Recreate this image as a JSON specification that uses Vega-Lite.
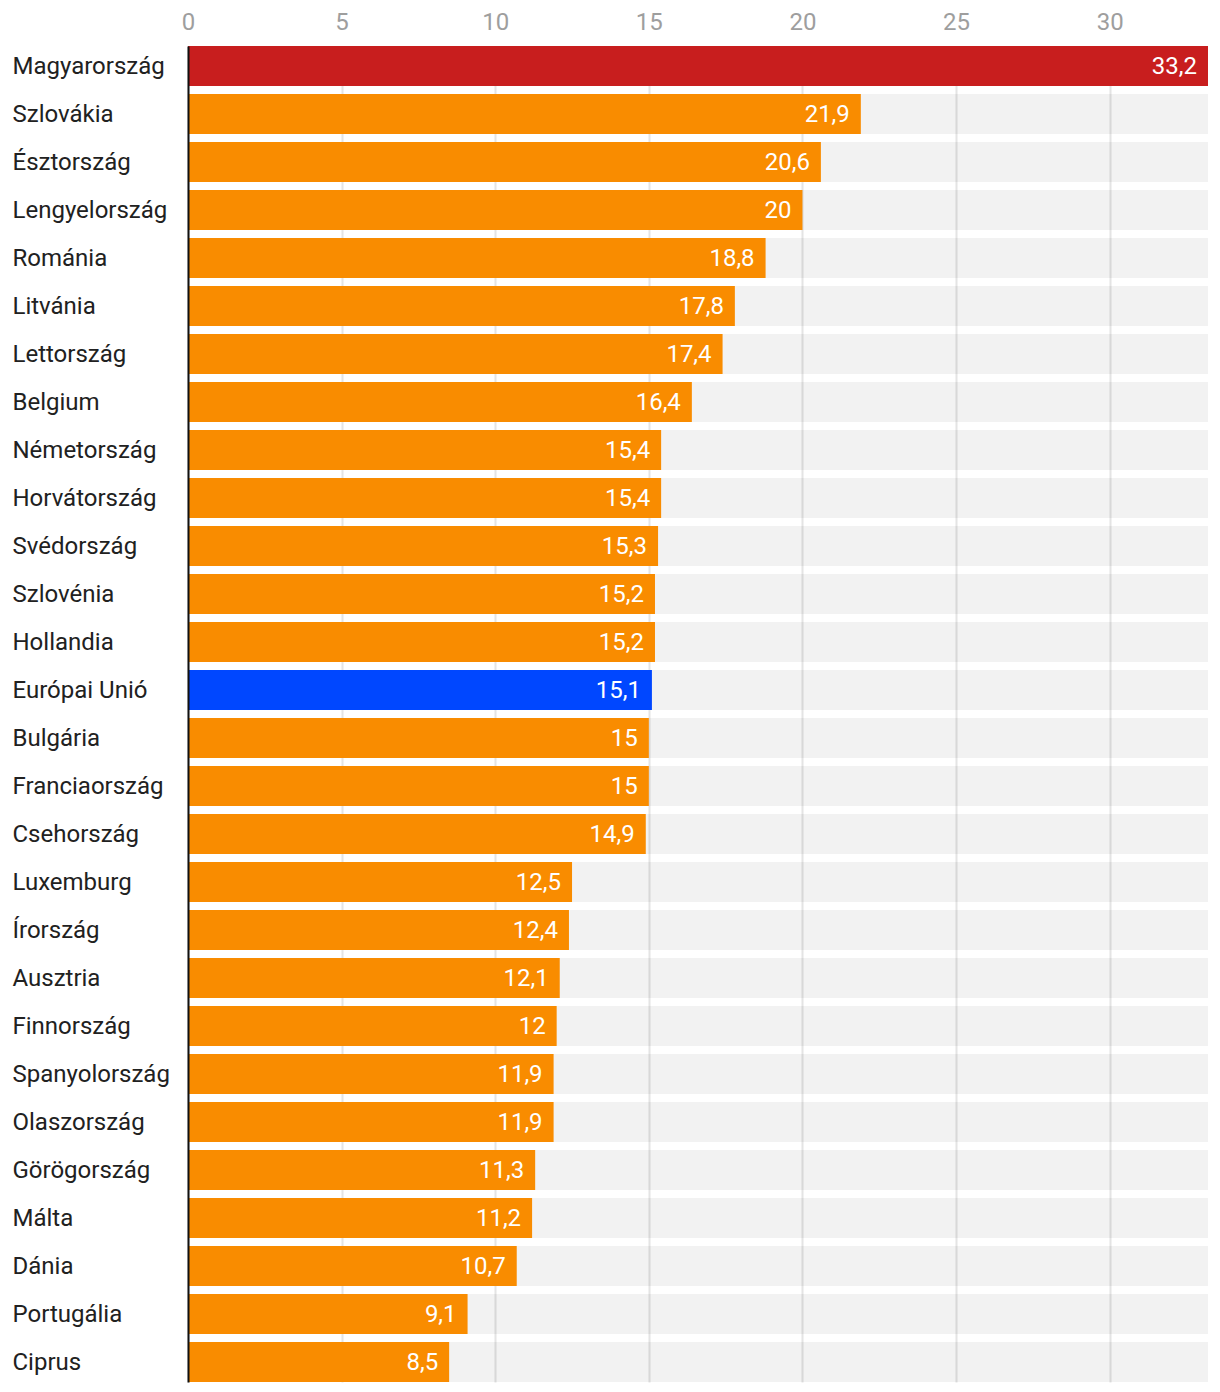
{
  "$schema": "https://vega.github.io/schema/vega-lite/v6.json",
  "width": 1020,
  "height": 1336,
  "autosize": "none",
  "padding": {"left": 188, "top": 46, "right": 12, "bottom": 10},
  "background": "white",
  "config": {
    "font": "Roboto",
    "view": {"stroke": null},
    "locale": {"number": {"decimal": ",", "thousands": " ", "grouping": [3], "currency": ["", " €"]}}
  },
  "data": {
    "values": [
      {"country": "Magyarország", "value": 33.2, "group": "hu"},
      {"country": "Szlovákia", "value": 21.9, "group": "other"},
      {"country": "Észtország", "value": 20.6, "group": "other"},
      {"country": "Lengyelország", "value": 20, "group": "other"},
      {"country": "Románia", "value": 18.8, "group": "other"},
      {"country": "Litvánia", "value": 17.8, "group": "other"},
      {"country": "Lettország", "value": 17.4, "group": "other"},
      {"country": "Belgium", "value": 16.4, "group": "other"},
      {"country": "Németország", "value": 15.4, "group": "other"},
      {"country": "Horvátország", "value": 15.4, "group": "other"},
      {"country": "Svédország", "value": 15.3, "group": "other"},
      {"country": "Szlovénia", "value": 15.2, "group": "other"},
      {"country": "Hollandia", "value": 15.2, "group": "other"},
      {"country": "Európai Unió", "value": 15.1, "group": "eu"},
      {"country": "Bulgária", "value": 15, "group": "other"},
      {"country": "Franciaország", "value": 15, "group": "other"},
      {"country": "Csehország", "value": 14.9, "group": "other"},
      {"country": "Luxemburg", "value": 12.5, "group": "other"},
      {"country": "Írország", "value": 12.4, "group": "other"},
      {"country": "Ausztria", "value": 12.1, "group": "other"},
      {"country": "Finnország", "value": 12, "group": "other"},
      {"country": "Spanyolország", "value": 11.9, "group": "other"},
      {"country": "Olaszország", "value": 11.9, "group": "other"},
      {"country": "Görögország", "value": 11.3, "group": "other"},
      {"country": "Málta", "value": 11.2, "group": "other"},
      {"country": "Dánia", "value": 10.7, "group": "other"},
      {"country": "Portugália", "value": 9.1, "group": "other"},
      {"country": "Ciprus", "value": 8.5, "group": "other"}
    ]
  },
  "encoding": {
    "y": {
      "field": "country",
      "type": "nominal",
      "sort": null,
      "scale": {"paddingInner": 0.1667, "paddingOuter": 0},
      "axis": {
        "title": null,
        "ticks": false,
        "tickSize": 0,
        "labelAlign": "left",
        "labelPadding": 176,
        "labelFontSize": 24,
        "labelColor": "#212121",
        "labelFont": "Roboto",
        "labelOffset": 1,
        "domainColor": "#111111",
        "domainWidth": 2,
        "zindex": 2
      }
    }
  },
  "layer": [
    {
      "mark": {"type": "bar", "color": "#000000", "opacity": 0.05},
      "encoding": {
        "x": {"value": 0},
        "x2": {"value": "width"}
      }
    },
    {
      "mark": {"type": "bar"},
      "encoding": {
        "x": {
          "field": "value",
          "type": "quantitative",
          "scale": {"domain": [0, 33.2], "nice": false, "zero": true},
          "axis": {
            "orient": "top",
            "title": null,
            "values": [0, 5, 10, 15, 20, 25, 30],
            "format": "d",
            "domain": false,
            "ticks": false,
            "tickSize": 0,
            "labelPadding": 12,
            "labelFontSize": 24,
            "labelColor": "#9e9e9e",
            "labelFont": "Roboto",
            "grid": true,
            "gridColor": "#e4e4e4",
            "gridWidth": 2,
            "labelFlush": false
          }
        },
        "color": {
          "field": "group",
          "type": "nominal",
          "scale": {"domain": ["hu", "other", "eu"], "range": ["#c81e1e", "#f98c00", "#0047ff"]},
          "legend": null
        }
      }
    },
    {
      "mark": {"type": "text", "align": "right", "baseline": "middle", "dx": -11, "dy": 1, "fontSize": 24, "color": "white", "font": "Roboto"},
      "encoding": {
        "x": {"field": "value", "type": "quantitative"},
        "text": {"field": "value", "type": "quantitative", "format": ".1~f"}
      }
    }
  ]
}
